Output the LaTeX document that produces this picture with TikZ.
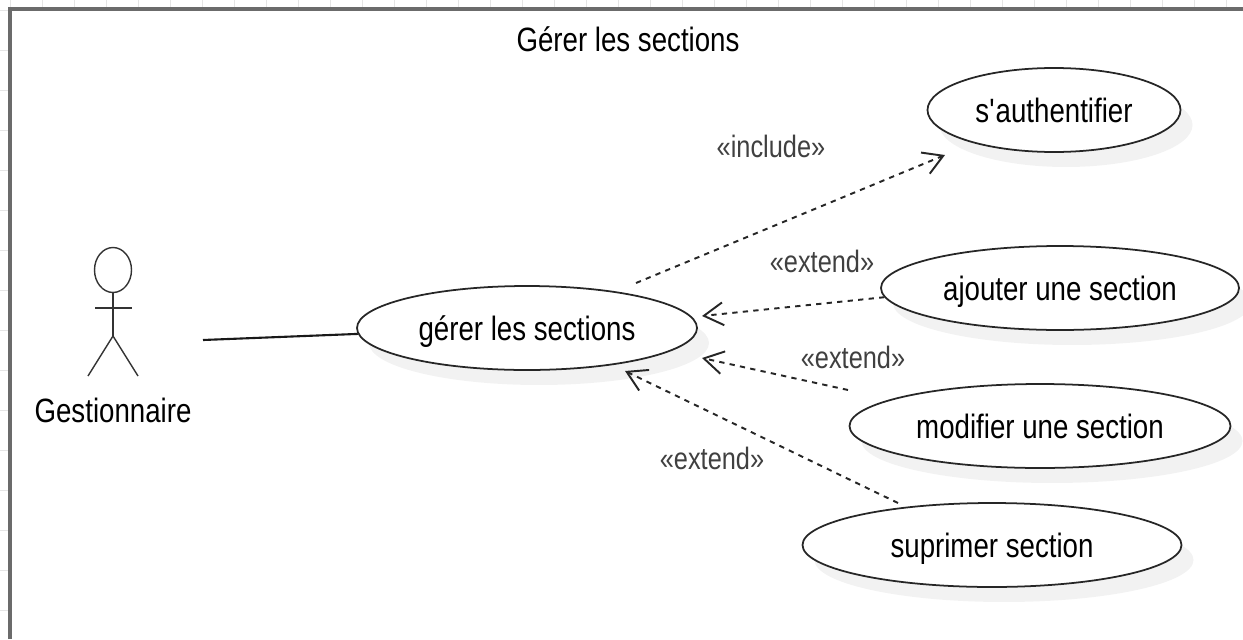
\documentclass[tikz,border=0pt]{standalone}
\usepackage{fontspec}
\setmainfont[FakeStretch=0.82]{Liberation Sans}
\usetikzlibrary{arrows.meta,shapes.geometric,shadows}
\tikzset{
	usecase/.style={ellipse,draw=black!85,line width=1pt,fill=white,inner sep=0pt,text height=14pt,text depth=0pt,font=\fontsize{19.2}{22}\selectfont,
		drop shadow={shadow xshift=0.24cm,shadow yshift=-0.3cm,fill=black!5,opacity=1}},
	relation/.style={dashed,dash pattern=on 3pt off 3pt,line width=1.1pt,color=black!85,-{Straight Barb[length=11pt,width=13pt]}},
	stereotype/.style={font=\fontsize{17.6}{20}\selectfont,color=black!75},
	limb/.style={line width=0.8pt,color=black!80}
}
\begin{document}
\begin{tikzpicture}[x=0.02cm,y=-0.02cm]
	\useasboundingbox (0,0) rectangle (1243,639);
	% Faint grid ticks outside the frame
	\foreach \x in {10,42,...,1243}
	{\draw[black!10,line width=0.5pt] (\x,0) -- (\x,8);}
	\foreach \y in {10,50,...,639}
	{\draw[black!10,line width=0.5pt] (0,\y) -- (9,\y);}
	% Frame; only the top and left sides are visible
	\draw[line width=2.2pt,color=black!58] (10,639) -- (10,9) -- (1243,9);
	\node (title) at (628,39) {\fontsize{19.2}{22}\selectfont Gérer les sections};
	% Draw the use cases
	\foreach \x/\y/\w/\name/\desc in {527/328/340/gerer/gérer les sections,
		1054/110/253/auth/s\textquotesingle authentifier,
		1060/288/358/ajouter/ajouter une section,
		1040/426/381/modifier/modifier une section,
		992/545/379/suprimer/suprimer section}
	{\node[usecase,minimum width=\w*0.02cm,minimum height=1.68cm] (\name) at (\x,\y) {\desc};}
	% Draw the actor
	\node[ellipse,draw=black!80,line width=0.8pt,minimum width=0.74cm,minimum height=0.9cm,inner sep=0pt] (head) at (113,270) {};
	\coordinate (hip) at (113,336);
	\coordinate (armleft) at (95,308);
	\coordinate (armright) at (132,308);
	\coordinate (footleft) at (88,376);
	\coordinate (footright) at (138,376);
	\draw[limb] (head.south) -- (hip);
	\draw[limb] (armleft) -- (armright);
	\draw[limb] (footleft) -- (hip) -- (footright);
	\node (actor) at (113,410) {\fontsize{19.2}{22}\selectfont Gestionnaire};
	% Draw the connectors
	\coordinate (actorend) at (203,340);
	\draw[line width=1.2pt,color=black!90] (actorend) -- (gerer.182);
	\coordinate (includestart) at (636,283);
	\coordinate (includeend) at (945,155);
	\draw[relation] (includestart) -- (includeend);
	\coordinate (ajouterend) at (702,316);
	\draw[relation] (ajouter.183.5) -- (ajouterend);
	\coordinate (modifierstart) at (848,390);
	\coordinate (modifierend) at (702,358);
	\draw[relation] (modifierstart) -- (modifierend);
	\coordinate (suprimerend) at (625,371);
	\coordinate (suprimerstart) at (898,503);
	\draw[relation] (suprimerstart) -- (suprimerend);
	% Draw the stereotypes
	\foreach \x/\y/\name/\desc in {771/146/labelinclude/include,
		822/261/labelajouter/extend,
		853/357/labelmodifier/extend,
		712/458/labelsuprimer/extend}
	{\node[stereotype] (\name) at (\x,\y) {«\desc»};}
\end{tikzpicture}
\end{document}
